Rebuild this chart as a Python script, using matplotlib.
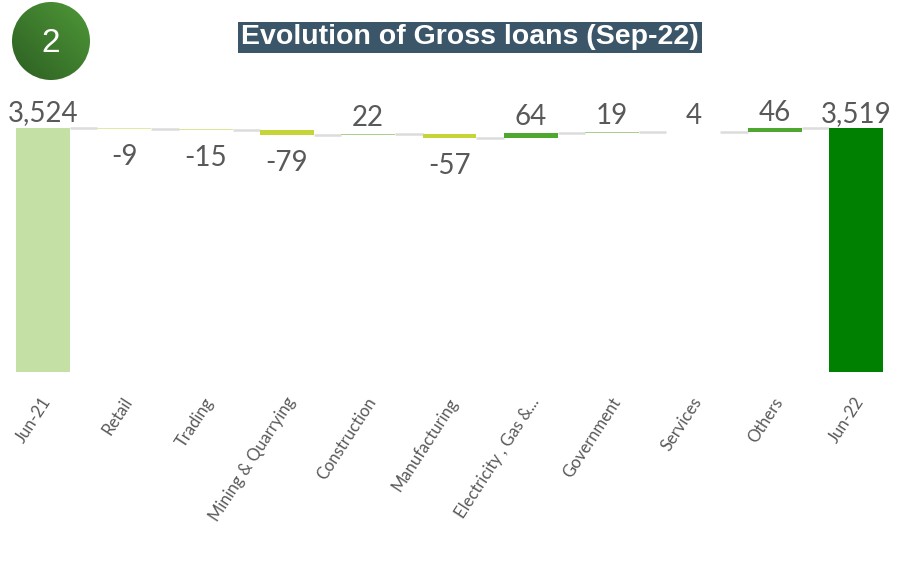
import matplotlib
matplotlib.use("Agg")
import matplotlib.pyplot as plt
from matplotlib.patches import Circle
from matplotlib.colors import LinearSegmentedColormap
import numpy as np

# Gross loans bridge, Jun-21 -> Jun-22 (by sector)
categories = ["Jun-21", "Retail", "Trading", "Mining & Quarrying", "Construction",
              "Manufacturing", "Electricity , Gas &...", "Government", "Services",
              "Others", "Jun-22"]
start_total = 3524
changes = [-9, -15, -79, 22, -57, 64, 19, 4, 46]
end_total = 3519

bar_colors = ["#c5e0a5", "#e2eba6", "#dbe69a", "#c5d538", "#a9d18e",
              "#c5d538", "#4ea72e", "#a9d18e", "#c5e0b4", "#4ea72e", "#008000"]

W, H = 897, 570
fig = plt.figure(figsize=(W / 100, H / 100), dpi=100)
fig.patch.set_facecolor("white")

# axes placed in pixel terms: value 0 at y=372, top of axes at y=90
ax = fig.add_axes([0, 1 - 372 / H, 1, (372 - 90) / H])
unit = 81.3
ax.set_xlim(-43 / unit, 10 + (W - 856) / unit)
ax.set_ylim(0, start_total * 282 / 244)
ax.axis("off")

bw = 0.664
font_lbl = "Lato"
lbl_color = "#595959"

# running totals
levels = [start_total]
for c in changes:
    levels.append(levels[-1] + c)

x = np.arange(len(categories))

# totals
ax.bar(x[0], start_total, width=bw, color=bar_colors[0], zorder=2)
ax.bar(x[-1], end_total, width=bw, color=bar_colors[-1], zorder=2)

# floating steps
for i, c in enumerate(changes, start=1):
    lo = min(levels[i - 1], levels[i])
    ax.bar(x[i], abs(c), bottom=lo, width=bw, color=bar_colors[i], zorder=2)

# connectors between bars
for i in range(len(categories) - 1):
    lvl = levels[i]
    ax.plot([x[i] + bw / 2, x[i + 1] - bw / 2], [lvl, lvl],
            color="#dcdcdc", lw=1.8, zorder=1, solid_capstyle="butt")

# value labels
ax.text(x[0], start_total + 25, f"{start_total:,}", ha="center", va="bottom",
        fontsize=20, color=lbl_color, family=font_lbl)
ax.text(x[-1], end_total + 25, f"{end_total:,}", ha="center", va="bottom",
        fontsize=20, color=lbl_color, family=font_lbl)
for i, c in enumerate(changes, start=1):
    top = max(levels[i - 1], levels[i])
    bot = min(levels[i - 1], levels[i])
    if c >= 0:
        ax.text(x[i], top + 40, f"{c}", ha="center", va="bottom",
                fontsize=20, color=lbl_color, family=font_lbl)
    else:
        ax.text(x[i], bot - 220, f"{c}", ha="center", va="top",
                fontsize=20, color=lbl_color, family=font_lbl)

# rotated category labels
for i, name in enumerate(categories):
    ax.text(x[i] + 0.06, -390, name, rotation=57, rotation_mode="anchor",
            ha="right", va="center", fontsize=12, color=lbl_color,
            family=font_lbl, clip_on=False)

# title banner
fig.text(470 / W, 1 - 37.5 / H, "Evolution of Gross loans (Sep-22)",
         ha="center", va="center", fontsize=20.5, fontweight="bold",
         color="white", family="Liberation Sans",
         bbox=dict(boxstyle="square,pad=0.1", fc="#3b5569", ec="none"))

# numbered badge, pixel coords (y down): light top-right, dark bottom-left
badge = fig.add_axes([0, 0, 1, 1], zorder=-1)
badge.axis("off")
cx, cy, r = 51, 41, 39
px, py = np.meshgrid(np.linspace(cx - r, cx + r, 100),
                     np.linspace(cy - r, cy + r, 100))
grad = ((px - (cx - r)) + ((cy + r) - py)) / (4 * r)
cmap = LinearSegmentedColormap.from_list("badge", ["#2c5f22", "#4f9838"])
img = badge.imshow(grad, cmap=cmap, extent=(cx - r, cx + r, cy + r, cy - r),
                   origin="upper", interpolation="bilinear")
clip = Circle((cx, cy), r, transform=badge.transData, fc="none", ec="none")
badge.add_patch(clip)
img.set_clip_path(clip)
badge.set_xlim(0, W)
badge.set_ylim(H, 0)
badge.text(cx, cy + 2, "2", ha="center", va="center", fontsize=24,
           color="white", family="Liberation Sans")

fig.savefig("out.png", dpi=100, facecolor="white")
